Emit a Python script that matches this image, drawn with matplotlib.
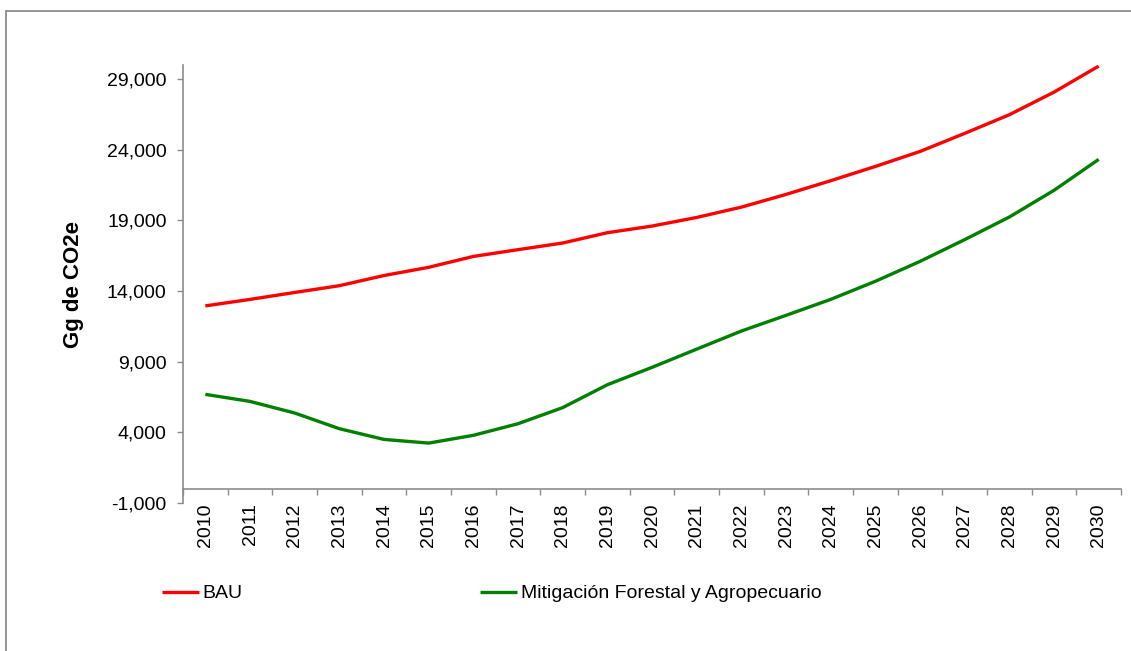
import numpy as np
import matplotlib
matplotlib.use("Agg")
import matplotlib.pyplot as plt
from matplotlib.patches import Rectangle
from matplotlib.ticker import FuncFormatter

plt.rcParams.update({"font.family": ["Liberation Sans", "DejaVu Sans"], "font.size": 14})

years = [str(y) for y in range(2010, 2031)]
bau = [12950, 13410, 13900, 14380, 15100, 15680, 16450, 16930, 17400, 18130, 18600,
       19210, 19940, 20840, 21810, 22820, 23880, 25160, 26480, 28080, 29920]
mitigacion = [6690, 6190, 5370, 4260, 3500, 3240, 3790, 4610, 5750, 7370, 8600,
              9890, 11170, 12280, 13410, 14690, 16100, 17640, 19240, 21130, 23320]
yticks = [-1000, 4000, 9000, 14000, 19000, 24000, 29000]

fig = plt.figure(figsize=(11.31, 6.51), dpi=100)
# outer frame (only top and left edges fall inside the canvas)
fig.patches.append(Rectangle((6 / 1131, -0.2), 1.2, 1.2 - 10.5 / 651,
                             transform=fig.transFigure, fill=False,
                             edgecolor="#8c8c8c", lw=1.3))

ax = fig.add_axes([183 / 1131, (651 - 503) / 651, 938 / 1131, 438 / 651])
x = np.arange(len(years))
ax.plot(x, bau, color="#ff0000", lw=2.4, label="BAU", solid_capstyle="butt")
ax.plot(x, mitigacion, color="#008000", lw=2.4,
        label="Mitigación Forestal y Agropecuario", solid_capstyle="butt")

ax.set_xlim(-0.5, len(years) - 0.5)
ax.set_ylim(-1000, 30000)
ax.set_yticks(yticks)
ax.yaxis.set_major_formatter(FuncFormatter(lambda v, p: f"{int(v):,}"))
ax.tick_params(axis="y", length=4.3, width=1, color="#8c8c8c", pad=7.5, labelsize=14)

for s in ["top", "right"]:
    ax.spines[s].set_visible(False)
for s in ["left", "bottom"]:
    ax.spines[s].set_color("#8c8c8c")
    ax.spines[s].set_linewidth(1.2)
ax.spines["bottom"].set_position(("data", 0))

# category boundaries carry the tick marks, labels sit below the plot floor
ax.set_xticks(np.arange(-0.5, len(years), 1.0), minor=True)
ax.tick_params(axis="x", which="minor", length=4.3, width=1, color="#8c8c8c")
ax.set_xticks(x)
ax.set_xticklabels(years, rotation=90, fontsize=14)
ax.tick_params(axis="x", which="major", length=0, pad=10.5)

ax.set_ylabel("Gg de CO2e", fontsize=16, fontweight="bold", labelpad=16.5)

fig.legend(loc="upper left", bbox_to_anchor=(154 / 1131, 1 - 577 / 651), ncol=2,
           frameon=False, fontsize=14, handlelength=1.9, handletextpad=0.2,
           columnspacing=12.2, borderaxespad=0)

fig.savefig("out.png", dpi=100)
